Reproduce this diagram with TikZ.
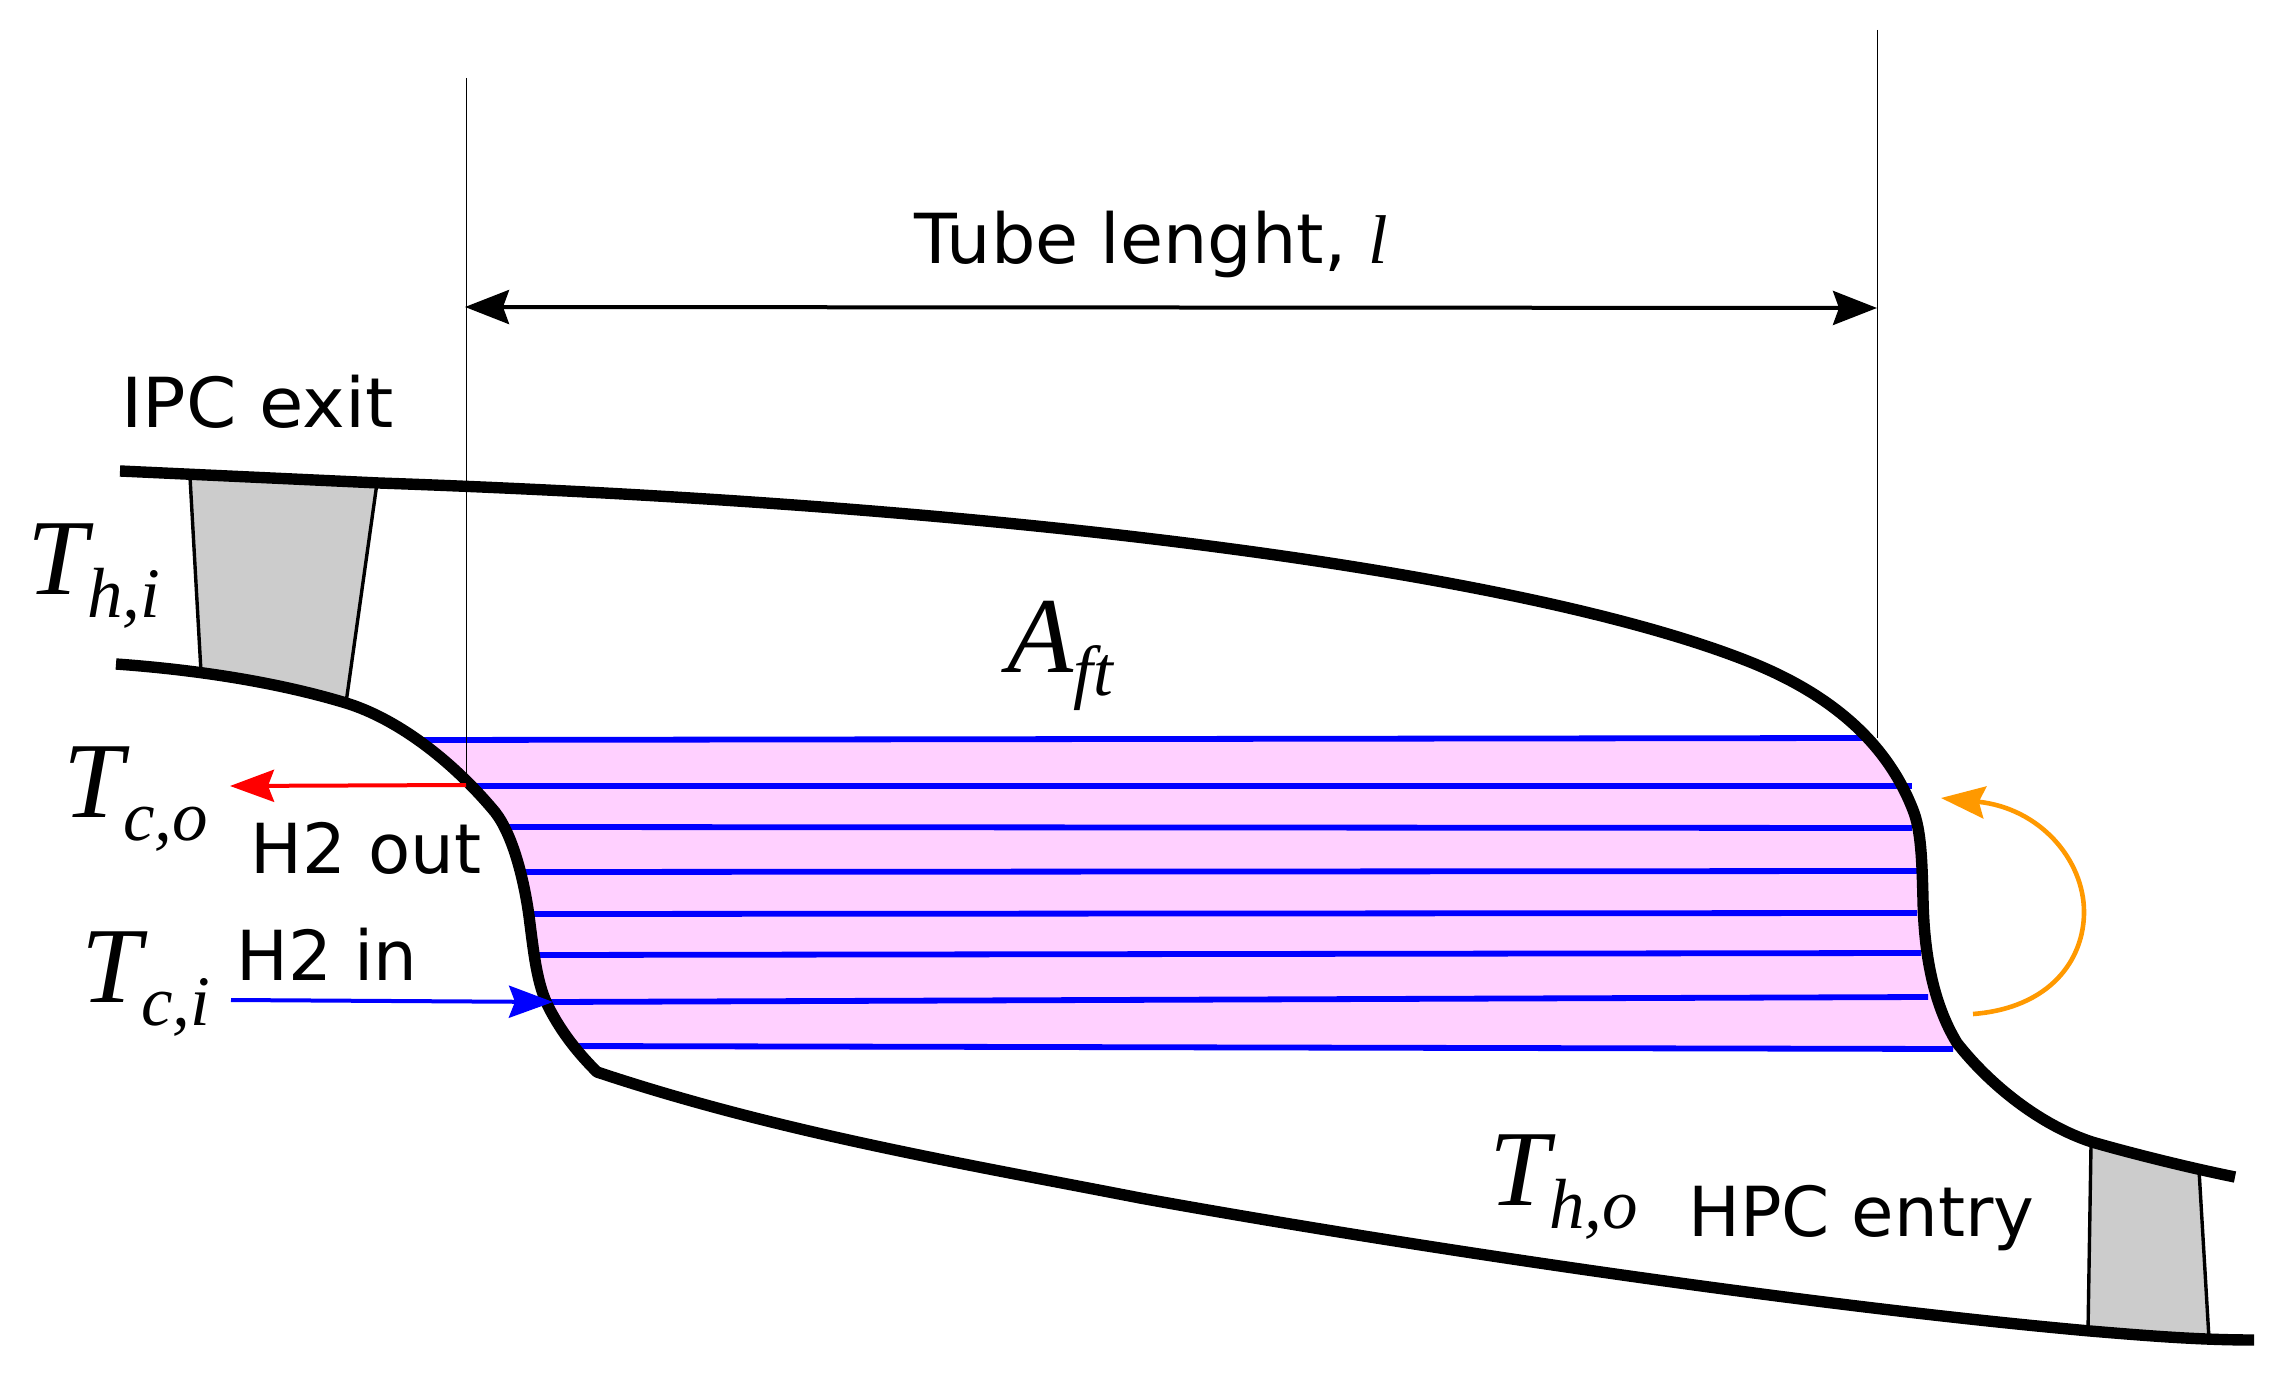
\documentclass[tikz,border=0pt]{standalone}
\usepackage{fontspec}
\setmainfont{DejaVu Sans}
\newfontfamily\tmsfam{Liberation Serif}
\newcommand{\tmsit}{\tmsfam\itshape}
\newcommand{\symb}[2]{{\fontsize{54}{60}\selectfont\tmsit #1}{\fontsize{35.5}{40}\selectfont\raisebox{-11.5pt}{\tmsit #2}}}
\usetikzlibrary{arrows.meta}
\definecolor{pinkfill}{HTML}{FFD0FF}
\definecolor{bladegrey}{HTML}{CCCCCC}
\definecolor{heatorange}{HTML}{FF9900}
\tikzset{
  wall/.style={draw=black,line width=5.7pt,line join=round},
  tubeline/.style={draw=blue,line width=2.9pt},
  blade/.style={draw=black,fill=bladegrey,line width=1.7pt},
  guide/.style={draw=black,line width=.5pt},
  dimarrow/.style={draw=black,line width=2pt,{Stealth[length=22pt,width=17pt,inset=3pt]}-{Stealth[length=22pt,width=17pt,inset=3pt]}},
  flowarrow/.style={line width=2pt,-{Stealth[length=22pt,width=16pt,inset=3pt]}},
  lbl/.style={inner sep=0pt,anchor=base west,scale=3.45},
  sym/.style={inner sep=0pt,anchor=base west},
}
\begin{document}
\begin{tikzpicture}[x=.5pt,y=-.5pt]
\useasboundingbox (0,0) rectangle (2291,1384);
\fill[white] (0,0) rectangle (2291,1384);
% heat-exchanger fill
\fill[pinkfill] (418,740) -- (466,782) -- (495,815) -- (518,868) -- (529,918) -- (536,968) -- (549,1008) -- (567,1038) -- (585,1050)
  -- (1955,1050) -- (1943,1020) -- (1929,978) -- (1924,931) -- (1922,875) -- (1919,823) -- (1898,774) -- (1867,737) -- cycle;
% tubes
\draw[tubeline] (420,740) -- (1869,738);
\draw[tubeline] (470,786) -- (1912,786);
\draw[tubeline] (502,827) -- (1912,828);
\draw[tubeline] (520,872) -- (1917,871);
\draw[tubeline] (531,914) -- (1917,913);
\draw[tubeline] (538,955) -- (1921,953);
\draw[tubeline] (551,1002) -- (1928,997);
\draw[tubeline] (576,1046) -- (1953,1049);
% guide lines
\coordinate (gl1) at (466,78);
\coordinate (gl2) at (466,785);
\coordinate (gr1) at (1877,30);
\coordinate (gr2) at (1877,738);
\draw[guide] (gl1) -- (gl2);
\draw[guide] (gr1) -- (gr2);
% blades
\draw[blade] (190,477) -- (201,672) .. controls (260,678) and (305,690) .. (346,703) -- (377,483) -- cycle;
\draw[blade] (2091,1145) -- (2199,1170) -- (2209,1339) -- (2088,1331) -- cycle;
% walls
\draw[wall] (120,471) -- (379,483) .. controls (1079,507.5) and (1550,582) .. (1750,662)
  .. controls (1825,692) and (1885,738) .. (1913,810)
  .. controls (1921,830) and (1922,860) .. (1923,900)
  .. controls (1924,950) and (1932,1002) .. (1957,1043)
  .. controls (1990,1085) and (2040,1125) .. (2092,1142)
  .. controls (2130,1153) and (2190,1168) .. (2235,1177);
\draw[wall] (116,664) .. controls (200,670) and (280,683) .. (346,703)
  .. controls (395,718) and (450,758) .. (495,812)
  .. controls (513,835) and (524,880) .. (529,916)
  .. controls (534,955) and (537,985) .. (549,1008)
  .. controls (563,1035) and (580,1055) .. (597,1072)
  .. controls (777,1132) and (960,1163) .. (1140,1198)
  .. controls (1400,1245) and (1800,1305) .. (2090,1331)
  .. controls (2150,1336) and (2200,1340) .. (2254,1340);
% arrows
\coordinate (dimL) at (465,307);
\coordinate (dimR) at (1877,308);
\draw[dimarrow] (dimL) -- (dimR);
\coordinate (redS) at (466,785);
\coordinate (redE) at (230,786);
\draw[flowarrow,draw=red,color=red] (redS) -- (redE);
\coordinate (blueS) at (231,1000);
\coordinate (blueE) at (553,1002);
\draw[flowarrow,draw=blue,color=blue] (blueS) -- (blueE);
\coordinate (orS) at (1973,1014);
\coordinate (orE) at (1941,798);
\draw[flowarrow,line width=2.3pt,draw=heatorange,color=heatorange] (orS) .. controls (2050,1008) and (2084,960) .. (2084,912) .. controls (2084,860) and (2040,808) .. (orE);
% labels
\node[lbl,xscale=1.015] (tube) at (913,264) {Tube lenght, {\tmsit l}};
\node[lbl,xscale=1.045] (ipc) at (120,428) {IPC exit};
\node[lbl] (h2out) at (249,873) {H2 out};
\node[lbl] (h2in) at (235,980) {H2 in};
\node[lbl] (hpc) at (1687,1236) {HPC entry};
\node[sym] (thi) at (27,595) {\symb{T}{h,i}};
\node[sym] (tco) at (63,817) {\symb{T}{c,o}};
\node[sym] (tci) at (81,1002) {\symb{T}{c,i}};
\node[sym] (aft) at (1007,673) {\symb{A}{ft}};
\node[sym] (tho) at (1489,1205) {\symb{T}{h,o}};
\end{tikzpicture}
\end{document}
